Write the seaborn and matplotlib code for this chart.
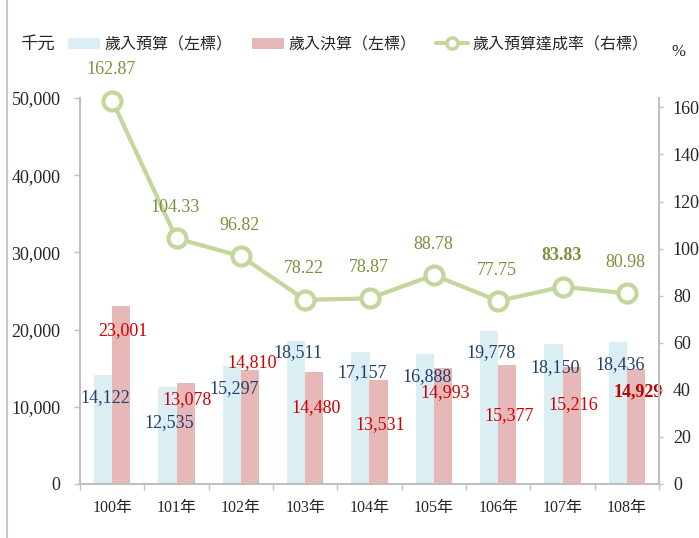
import numpy as np
import pandas as pd
import matplotlib
matplotlib.use('Agg')
from matplotlib import pyplot as plt
from matplotlib.patches import Patch
from matplotlib.lines import Line2D
import seaborn as sns

years = ['100年', '101年', '102年', '103年', '104年', '105年', '106年', '107年', '108年']
budget = [14122, 12535, 15297, 18511, 17157, 16888, 19778, 18150, 18436]
actual = [23001, 13078, 14810, 14480, 13531, 14993, 15377, 15216, 14929]
rate = [162.87, 104.33, 96.82, 78.22, 78.87, 88.78, 77.75, 83.83, 80.98]
series_names = ['歲入預算（左標）', '歲入決算（左標）', '歲入預算達成率（右標）']
left_ticks = [0, 10000, 20000, 30000, 40000, 50000]
right_ticks = [0, 20, 40, 60, 80, 100, 120, 140, 160]

# how far (px) each value label sits below its bar top
budget_dy = [23, 35, 23, 11.5, 21, 23, 21, 24, 23]
actual_dy = [24, 17, -7, 35, 45, 24, 50, 38.5, 23]

blue = '#dbeef4'
red = '#e6b9b8'
green = '#c3d69b'
green_txt = '#77933c'
navy = '#1f3f6e'
red_txt = '#d00000'
gray = '#bfbfbf'

sns.set_theme(style='white')
plt.rcParams['font.family'] = ['Liberation Serif', 'Noto Sans CJK TC']

df = pd.DataFrame({
    'year': years * 2,
    'value': budget + actual,
    'series': [series_names[0]] * len(years) + [series_names[1]] * len(years),
})

W, H = 699, 538
fig = plt.figure(figsize=(W / 100, H / 100), dpi=100)
ax = fig.add_axes([80 / W, 1 - 484 / H, (659 - 80) / W, (484 - 98) / H])

sns.barplot(data=df, x='year', y='value', hue='series', palette=[blue, red],
            width=0.56, saturation=1, linewidth=0, legend=False, ax=ax)
ax.set_xlabel('')
ax.set_ylabel('')
ax.set_ylim(0, 50000)
ax.set_xlim(-0.5, len(years) - 0.5)
ax.set_yticks(left_ticks)
ax.set_yticklabels([f'{t:,}' for t in left_ticks])
ax.set_xticks(np.arange(-0.5, len(years), 1), minor=True)
ax.tick_params(axis='y', left=True, direction='out', length=4, width=1, color=gray, pad=10, labelsize=13)
ax.tick_params(axis='x', which='major', length=0, pad=11.5, labelsize=11.5)
ax.tick_params(axis='x', which='minor', bottom=True, direction='out', length=4.3, width=1, color=gray)
for s in ['top', 'right']:
    ax.spines[s].set_visible(False)
for s in ['left', 'bottom']:
    ax.spines[s].set_color(gray)
    ax.spines[s].set_linewidth(1.5)

px = 0.72  # px -> pt at 100 dpi
for bars, vals, dys, col in [(ax.containers[0], budget, budget_dy, navy),
                             (ax.containers[1], actual, actual_dy, red_txt)]:
    for i, (b, v, dy) in enumerate(zip(bars, vals, dys)):
        xc = b.get_x() + b.get_width() / 2
        bold = (col == red_txt and i == len(vals) - 1)
        ax.annotate(f'{v:,}', xy=(xc, b.get_height()), xytext=(2 * px, -dy * px),
                    textcoords='offset points', ha='center', va='center', fontsize=13,
                    color='#c00000' if bold else col, fontweight='bold' if bold else 'normal')

ax2 = ax.twinx()
sns.lineplot(x=np.arange(len(years)), y=rate, ax=ax2, color=green, linewidth=3,
             marker='o', markersize=13, markerfacecolor='white', markeredgecolor=green,
             markeredgewidth=3, clip_on=False)
ax2.set_ylim(0, 164)
ax2.set_xlim(-0.5, len(years) - 0.5)
ax2.set_yticks(right_ticks)
ax2.tick_params(axis='y', right=True, direction='out', length=3, width=1, color=gray, pad=7, labelsize=13)
for s in ['top', 'left', 'bottom']:
    ax2.spines[s].set_visible(False)
ax2.spines['right'].set_color(gray)
ax2.spines['right'].set_linewidth(1.5)

for i, r in enumerate(rate):
    ax2.annotate(f'{r:.2f}', xy=(i, r), xytext=(-1 * px, 31 * px), textcoords='offset points',
                 ha='center', va='center', fontsize=13, color=green_txt,
                 fontweight='bold' if i == 7 else 'normal')

handles = [Patch(facecolor=blue, edgecolor='none'),
           Patch(facecolor=red, edgecolor='none'),
           Line2D([], [], color=green, linewidth=3, marker='o', markersize=8,
                  markerfacecolor='white', markeredgecolor=green, markeredgewidth=2.5)]
fig.legend(handles, series_names, loc='center left', bbox_to_anchor=(68 / W, 1 - 45 / H),
           ncol=3, frameon=False, fontsize=11.5, handlelength=2.0, handletextpad=0.3,
           columnspacing=1.2, borderpad=0, borderaxespad=0)

fig.text(20 / W, 1 - 45 / H, '千元', ha='left', va='center', fontsize=12.5)
fig.text(678 / W, 1 - 52 / H, '%', ha='center', va='center', fontsize=12)
fig.add_artist(Line2D([7 / W, 7 / W], [0, 1], transform=fig.transFigure, color='#c8c8c8', linewidth=1.5))

plt.savefig('out.png', dpi=100)
